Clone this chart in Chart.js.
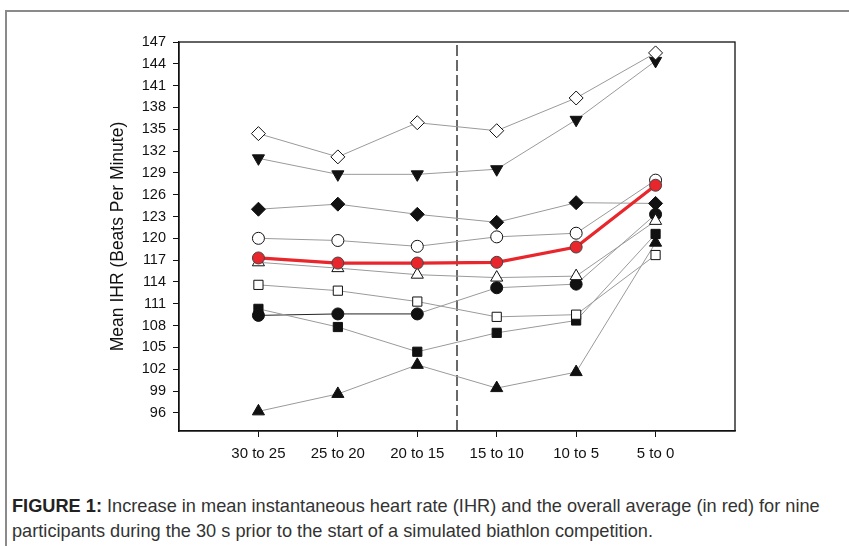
<!DOCTYPE html>
<html>
<head>
<meta charset="utf-8">
<script src="https://cdn.jsdelivr.net/npm/chart.js@4.4.1/dist/chart.umd.min.js"></script>
<style>
  body { margin: 0; background: #fff; width: 849px; height: 546px; overflow: hidden; position: relative; }
  #frame { position: absolute; left: 5px; top: 10px; width: 850px; height: 540px; border-top: 2px solid #8a8a8a; border-left: 2px solid #8a8a8a; }
  #c { position: absolute; left: 0; top: 0; }
  #caption { position: absolute; left: 12px; top: 494px; white-space: nowrap; font-family: "Liberation Sans", Arial, sans-serif; font-size: 18.2px; line-height: 25px; color: #333; }
  #caption b { color: #222; }
</style>
</head>
<body>
<div id="frame"></div>
<canvas id="c" width="849" height="470"></canvas>
<div id="caption"><b>FIGURE 1:</b> Increase in mean instantaneous heart rate (IHR) and the overall average (in red) for nine<br>participants during the 30 s prior to the start of a simulated biathlon competition.</div>
<script>
// categories (seconds before start)
const labels = ['30 to 25', '25 to 20', '20 to 15', '15 to 10', '10 to 5', '5 to 0'];
const yTicks = [96, 99, 102, 105, 108, 111, 114, 117, 120, 123, 126, 129, 132, 135, 138, 141, 144, 147];

// mean IHR per participant
const p_openDiamond  = [134.4, 131.2, 135.9, 134.8, 139.3, 145.5];
const p_downTri      = [131.0, 128.8, 128.8, 129.5, 136.3, 144.4];
const p_fillDiamond  = [124.0, 124.7, 123.3, 122.2, 124.9, 124.8];
const p_openCircle   = [120.0, 119.7, 118.9, 120.2, 120.7, 128.0];
const p_openTri      = [116.7, 115.9, 115.0, 114.6, 114.8, 122.4];
const p_openSquare   = [113.6, 112.8, 111.3, 109.2, 109.5, 117.7];
const p_fillSquare   = [110.3, 107.8, 104.4, 107.0, 108.7, 120.6];
const p_fillCircle   = [109.4, 109.6, 109.6, 113.2, 113.7, 123.3];
const p_fillTri      = [96.2, 98.6, 102.6, 99.4, 101.6, 119.4];
const average        = [117.3, 116.6, 116.6, 116.7, 118.8, 127.3];

const startLine = 2.5; // dashed marker between 20 to 15 and 15 to 10
const yMin = 93.5, yMax = 147;

function pts(arr) { return arr.map((v, i) => ({ x: i, y: v })); }

function person (data, style, fill, rot, r, segColor) {
    return {
        data: pts(data),
        borderColor: '#9a9a9a',
        borderWidth: 1,
        pointStyle: style,
        rotation: rot || 0,
        pointRadius: r,
        pointHoverRadius: r,
        pointBackgroundColor: fill,
        pointBorderColor: '#111',
        pointBorderWidth: 1,
        segment: segColor ? { borderColor: segColor } : undefined,
        order: 1
    };
}

const datasets = [
    {
        data: pts(average),
        borderColor: '#e8262b',
        borderWidth: 3.2,
        pointStyle: 'circle',
        pointRadius: 6,
        pointBackgroundColor: '#e8262b',
        pointBorderColor: '#444',
        pointBorderWidth: 1,
        order: 0
    },
    person(p_openDiamond, 'rectRot', '#fff', 0, 7),
    person(p_downTri, 'triangle', '#111', 180, 7),
    person(p_fillDiamond, 'rectRot', '#111', 0, 7),
    person(p_openCircle, 'circle', '#fff', 0, 6),
    person(p_openTri, 'triangle', '#fff', 0, 7),
    person(p_openSquare, 'rect', '#fff', 0, 6.5),
    person(p_fillSquare, 'rect', '#111', 0, 6.5),
    person(p_fillCircle, 'circle', '#111', 0, 6, ctx => ctx.p1DataIndex <= 2 ? '#222' : '#9a9a9a'),
    person(p_fillTri, 'triangle', '#111', 0, 7),
    {
        data: [{ x: startLine, y: yMin }, { x: startLine, y: yMax }],
        borderColor: '#1a1a1a',
        borderWidth: 1.3,
        borderDash: [11, 4],
        pointRadius: 0,
        order: 2
    }
];

const boxPlugin = {
    id: 'box',
    afterDraw(chart) {
        const a = chart.chartArea, ctx = chart.ctx;
        ctx.save();
        ctx.strokeStyle = '#111';
        ctx.lineWidth = 1.3;
        ctx.strokeRect(a.left, a.top, a.right - a.left, a.bottom - a.top);
        ctx.restore();
    }
};

new Chart(document.getElementById('c').getContext('2d'), {
    type: 'line',
    data: { datasets: datasets },
    options: {
        responsive: false,
        animation: false,
        events: [],
        layout: { padding: { left: 100, top: 42, right: 114, bottom: 0 } },
        plugins: { legend: { display: false }, tooltip: { enabled: false } },
        scales: {
            x: {
                type: 'linear',
                min: -1, max: 6,
                afterBuildTicks: s => { s.ticks = labels.map((l, i) => ({ value: i })); },
                afterFit: s => { s.height = 39; },
                ticks: {
                    callback: v => labels[v],
                    color: '#111',
                    padding: 8,
                    maxRotation: 0,
                    font: { family: 'Liberation Sans', size: 15 }
                },
                grid: { drawOnChartArea: false, drawTicks: true, tickLength: 6, color: '#111' },
                border: { color: '#111', width: 1.3 }
            },
            y: {
                min: yMin, max: yMax,
                afterBuildTicks: s => { s.ticks = yTicks.map(v => ({ value: v })); },
                afterFit: s => { s.width = 79; },
                ticks: {
                    color: '#111',
                    padding: 7,
                    font: { family: 'Liberation Sans', size: 14.5 }
                },
                grid: { drawOnChartArea: false, drawTicks: true, tickLength: 6, color: '#111' },
                border: { color: '#111', width: 1.3 },
                title: {
                    display: true,
                    text: 'Mean IHR (Beats Per Minute)',
                    color: '#111',
                    padding: { top: 8, bottom: 0 },
                    font: { family: 'Liberation Sans', size: 17.5 }
                }
            }
        }
    },
    plugins: [boxPlugin]
});
</script>
</body>
</html>
